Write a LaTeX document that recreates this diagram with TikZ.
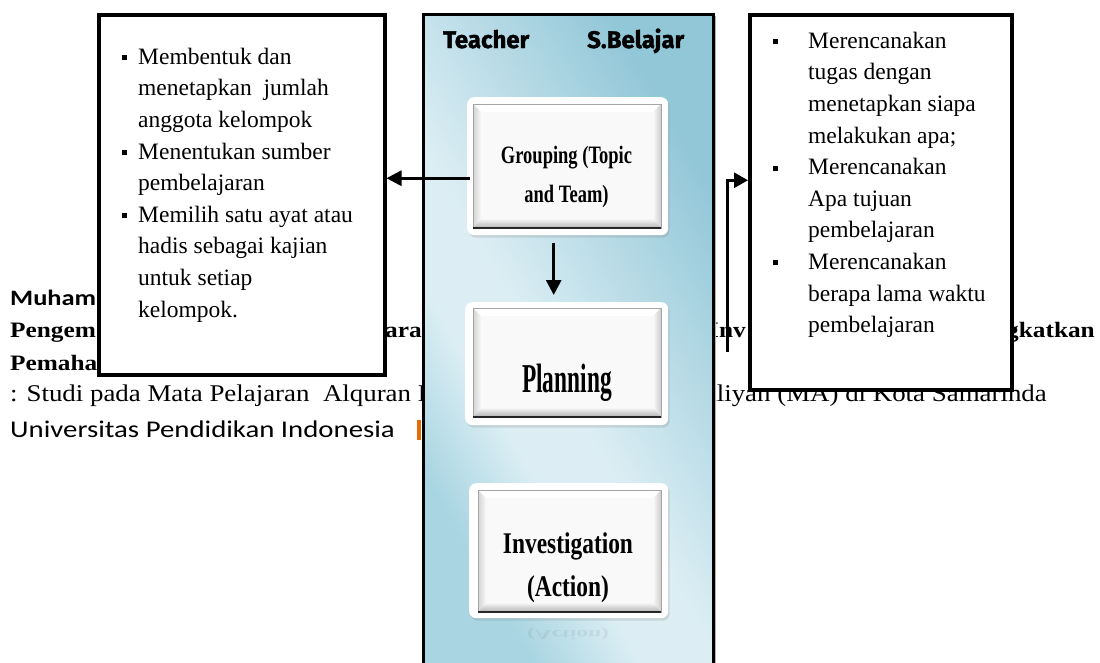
\documentclass[tikz,border=0pt]{standalone}
\usepackage{fontspec}
\setmainfont{Liberation Serif}
\newfontfamily\hdrfont{Fira Sans}[BoldFeatures={FakeBold=1.6}]
\newfontfamily\calfont{Carlito}
\usetikzlibrary{arrows.meta,shadows}
\definecolor{pnlL}{HTML}{A9D5E2}
\definecolor{pnlM}{HTML}{DCEEF4}
\definecolor{pnlR}{HTML}{92C7D8}
\definecolor{orangebar}{HTML}{E46C0A}
\pgfdeclarehorizontalshading{pnlshade}{100bp}{color(0bp)=(pnlL); color(28bp)=(pnlL); color(39bp)=(pnlM); color(47bp)=(pnlM); color(74bp)=(pnlR); color(100bp)=(pnlR)}
\newcommand{\lbul}{\makebox[16pt][l]{\raisebox{4pt}{\rule{5pt}{5pt}}}}
\newcommand{\lind}{\hspace*{16pt}}
\newcommand{\rbul}{\makebox[35pt][l]{\raisebox{4pt}{\rule{5pt}{5pt}}}}
\newcommand{\rind}{\hspace*{35pt}}
\newcommand{\btninner}[4]{%
  \fill[gray!5] (#1,#2) rectangle (#3,#4);
  \fill[white] (#1,#2) -- (#3,#2) -- (#3-8,#2+8) -- (#1+8,#2+8) -- cycle;
  \shade[left color=gray!35, right color=gray!5] (#1,#2) -- (#1+8,#2+8) -- (#1+8,#4-9) -- (#1,#4) -- cycle;
  \shade[left color=gray!5, right color=gray!40] (#3,#2) -- (#3-8,#2+8) -- (#3-8,#4-9) -- (#3,#4) -- cycle;
  \shade[top color=gray!8, bottom color=gray!60] (#1,#4) -- (#3,#4) -- (#3-8,#4-9) -- (#1+8,#4-9) -- cycle;
  \draw[gray!70, line width=0.6pt] (#1,#2) rectangle (#3,#4);
  \draw[black!85, line width=1.6pt] (#1,#4) -- (#3,#4);
}
\begin{document}
\begin{tikzpicture}[x=1pt,y=-1pt,
  txtbox/.style={draw=black, line width=3.5pt, fill=white, inner sep=0pt, anchor=north west},
  listtext/.style={anchor=north west, inner sep=0pt, align=left, font=\fontsize{23.5}{31.6}\selectfont},
  bgbold/.style={inner sep=0pt, font=\rmfamily\bfseries\fontsize{22}{22}\selectfont},
  bgreg/.style={inner sep=0pt, font=\rmfamily\fontsize{24}{24}\selectfont},
  bgcal/.style={inner sep=0pt, font=\calfont\fontsize{24}{24}\selectfont},
  arr/.style={line width=3pt, -{Triangle[length=15pt,width=15pt]}},
  btnout/.style={fill=white, rounded corners=7pt, inner sep=0pt, anchor=north west,
    drop shadow={opacity=0.22, shadow xshift=1.5pt, shadow yshift=-2.5pt}},
  btnlabel/.style={inner sep=0pt, align=center},
  hdr/.style={anchor=base west, inner sep=0pt, font=\hdrfont\bfseries\fontsize{24}{24}\selectfont}
]
\useasboundingbox (0,0) rectangle (1100,662);
\clip (0,0) rectangle (1100,662);
\fill[white] (0,0) rectangle (1100,662);

% page text behind the diagram
\node[bgcal, anchor=base west, font=\calfont\bfseries\fontsize{22}{22}\selectfont] (t1) at (10,305) {\scalebox{1.2}[1]{Muham}};
\node[bgbold, anchor=base west] (t2) at (10,337) {\scalebox{1.15}[1]{Pengem}};
\node[bgbold, anchor=base west] (t3) at (385,337) {\scalebox{1.15}[1]{aran}};
\node[bgbold, anchor=base west] (t4) at (709,337) {\scalebox{1.15}[1]{Inv}};
\node[bgbold, anchor=base east] (t5) at (1095,337) {\scalebox{1.15}[1]{gkatkan}};
\node[bgbold, anchor=base west] (t6) at (10,370) {\scalebox{1.15}[1]{Pemaha}};
\node[bgreg, anchor=base west] (t7) at (10,401) {\scalebox{1.12}[1]{: Studi pada Mata Pelajaran~ Alquran H}};
\node[bgreg, anchor=base east] (t8) at (1047,401) {\scalebox{1.12}[1]{Aliyah (MA) di Kota Samarinda}};
\node[bgcal, anchor=base west] (t9) at (10,437) {\scalebox{1.2}[1]{Universitas Pendidikan Indonesia}};
\fill[orangebar] (417,420) rectangle (421,440);

% left text box
\node[txtbox, minimum width=286pt, minimum height=360pt] (lbox) at (97,13) {};
\node[listtext] (ltext) at (122,44) {%
\rule{0pt}{20pt}\lbul Membentuk dan\\
\lind menetapkan~ jumlah\\
\lind anggota kelompok\\
\lbul Menentukan sumber\\
\lind pembelajaran\\
\lbul Memilih satu ayat atau\\
\lind hadis sebagai kajian\\
\lind untuk setiap\\
\lind kelompok.};

% right text box
\node[txtbox, minimum width=262pt, minimum height=375pt] (rbox) at (748,13) {};
\node[listtext] (rtext) at (773,28) {%
\rule{0pt}{20pt}\rbul Merencanakan\\
\rind tugas dengan\\
\rind menetapkan siapa\\
\rind melakukan apa;\\
\rbul Merencanakan\\
\rind Apa tujuan\\
\rind pembelajaran\\
\rbul Merencanakan\\
\rind berapa lama waktu\\
\rind pembelajaran};

% central panel
\shade[shading=pnlshade, shading angle=30] (422,13) rectangle (712,680);
\draw[gray!60, line width=2pt] (715,16) -- (715,680);
\node[draw=black, line width=3pt, inner sep=0pt, anchor=north west, minimum width=290pt, minimum height=667pt] (panel) at (422,13) {};

\node[hdr] (teach) at (443,48) {Teacher};
\node[hdr] (sbel) at (587,48) {S.Belajar};

% buttons
\node[btnout, minimum width=201pt, minimum height=138pt] (grpo) at (467,97) {};
\btninner{473}{104}{661}{228}
\node[btnlabel, anchor=north, font=\bfseries\fontsize{25}{39}\selectfont] (grpt) at (566.5,143) {\rule{0pt}{20pt}\scalebox{0.74}[1]{Grouping (Topic}\\\scalebox{0.74}[1]{and Team)}};

\node[btnout, minimum width=203pt, minimum height=123pt] (plno) at (465,302) {};
\btninner{473}{308}{661}{417}
\node[btnlabel, anchor=base, font=\bfseries\fontsize{41}{41}\selectfont] (plnt) at (567,392) {\scalebox{0.57}[1]{Planning}};

\node[btnout, minimum width=199pt, minimum height=135pt] (invo) at (469,483) {};
\btninner{478}{490}{661}{612}
\node[btnlabel, anchor=north, font=\bfseries\fontsize{30}{43}\selectfont] (invt) at (568,529) {\rule{0pt}{24pt}\scalebox{0.78}[1]{Investigation}\\\scalebox{0.78}[1]{(Action)}};
\node[btnlabel, anchor=base, font=\bfseries\fontsize{30}{30}\selectfont, text opacity=0.06, yscale=-0.45] (invr) at (568,630) {\scalebox{0.78}[1]{(Action)}};

% connectors
\coordinate (ga) at ([xshift=3pt,yshift=-12pt]grpo.west);
\draw[arr] (ga) -- (ga -| lbox.east);
\coordinate (da) at ([xshift=-14pt,yshift=-8pt]grpo.south);
\draw[arr, shorten >=7pt] (da) -- (da |- plno.north);
\coordinate (rc) at (727,352);
\coordinate (rc2) at ([yshift=22pt]rbox.west);
\draw[arr, -{Triangle[length=14pt,width=15pt]}] (rc) |- (rc2);
\end{tikzpicture}
\end{document}
